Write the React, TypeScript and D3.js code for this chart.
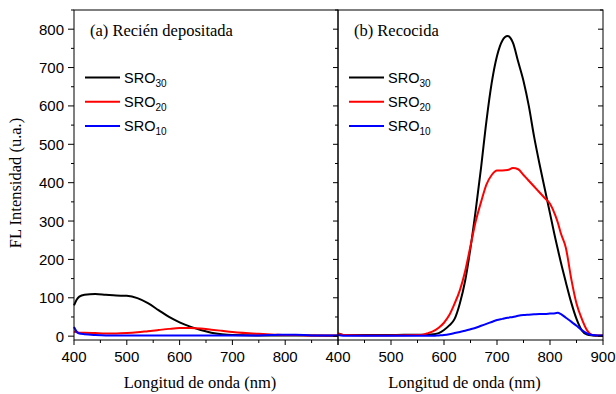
import React from "react";
import * as d3 from "d3";

const wlA = [400, 405, 410, 420, 440, 460, 480, 500, 520, 540, 560, 580, 600, 620, 640, 660, 680, 700, 750, 780, 800, 820, 850, 900];
const sro30A = [80, 95, 103, 108, 110, 108, 106, 105, 99, 86, 68, 50, 36, 25, 16, 9, 5, 3, 2, 2, 2, 2, 2, 1];
const sro20A = [12, 10, 9, 9, 8, 7, 7, 8, 10, 13, 16, 19, 21, 21, 20, 17, 14, 11, 6, 4, 3, 3, 2, 2];
const sro10A = [24, 12, 7, 5, 3, 2, 2, 2, 2, 2, 2, 2, 2, 2, 2, 2, 2, 2, 2, 3, 4, 4, 2, 2];

const wlB = [400, 410, 450, 500, 550, 560, 570, 580, 590, 600, 610, 620, 630, 640, 650, 660, 670, 680, 690, 700, 710, 720, 730, 740, 750, 760, 770, 780, 790, 800, 810, 815, 820, 830, 840, 850, 860, 870, 880, 890, 900];
const sro30B = [7, 3, 3, 3, 4, 4, 4, 5, 8, 16, 28, 45, 86, 145, 230, 330, 440, 560, 660, 730, 770, 782, 765, 715, 665, 600, 520, 450, 385, 320, 255, 225, 195, 140, 88, 45, 15, 4, 2, 1, 1];
const sro20B = [7, 3, 2, 2, 3, 4, 8, 13, 22, 35, 55, 85, 120, 170, 235, 300, 350, 395, 420, 432, 432, 433, 438, 435, 420, 405, 390, 375, 360, 345, 315, 295, 270, 230, 150, 85, 45, 15, 3, 2, 2];
const sro10B = [3, 1, 1, 1, 1, 1, 1, 1, 2, 3, 5, 8, 11, 14, 18, 22, 27, 32, 37, 42, 45, 48, 50, 53, 55, 56, 57, 58, 58, 59, 60, 61, 58, 48, 38, 27, 16, 7, 3, 2, 2];

const xTicksA = [400, 500, 600, 700, 800];
const xTicksB = [400, 500, 600, 700, 800, 900];
const yTicks = [0, 100, 200, 300, 400, 500, 600, 700, 800];
const seriesNames = ["30", "20", "10"];
const colors = ["#000000", "#ff0000", "#0000ff"];
const panelTitles = ["(a) Recién depositada", "(b) Recocida"];
const xTitle = "Longitud de onda (nm)";
const yTitle = "FL Intensidad (u.a.)";

const W = 616;
const H = 394;
const top = 10;
const bottom = 340;
const panels = [
  { x0: 74, x1: 338, wl: wlA, data: [sro30A, sro20A, sro10A], title: panelTitles[0], ticks: xTicksA },
  { x0: 338, x1: 603, wl: wlB, data: [sro30B, sro20B, sro10B], title: panelTitles[1], ticks: xTicksB },
];

const sansFont = "'Liberation Sans', Arial, Helvetica, sans-serif";
const serifFont = "'Liberation Serif', 'Times New Roman', Times, 'DejaVu Serif', serif";

export default function App() {
  const y = d3.scaleLinear().domain([-10, 850]).range([bottom, top]);
  const minorY = d3.range(0, 851, 50);
  const minorX = d3.range(400, 901, 50);

  return (
    <svg width={W} height={H} style={{ position: "absolute", left: 0, top: 0, background: "#fff" }}>
      <rect x={0} y={0} width={W} height={H} fill="#fff" />
      {panels.map((p, pi) => {
        const x = d3.scaleLinear().domain([400, 900]).range([p.x0, p.x1]);
        const line = d3
          .line<number>()
          .x((_, i) => x(p.wl[i]))
          .y((d) => y(d))
          .curve(d3.curveMonotoneX);
        const legX = p.x0 + 11;
        return (
          <g key={pi}>
            {p.data.map((s, si) => (
              <path key={si} d={line(s) || ""} fill="none" stroke={colors[si]} strokeWidth={2} strokeLinejoin="round" />
            ))}
            <rect x={p.x0} y={top} width={p.x1 - p.x0} height={bottom - top} fill="none" stroke="#000" strokeWidth={1} />
            {minorX.map((v) => {
              const major = v % 100 === 0;
              return (
                <line key={"xt" + v} x1={x(v)} x2={x(v)} y1={bottom} y2={bottom + (major ? 5 : 3)} stroke="#000" strokeWidth={1} />
              );
            })}
            {p.ticks.map((v) => (
              <text key={"xl" + v} x={x(v)} y={362} textAnchor="middle" fontFamily={sansFont} fontSize={15} fill="#000">
                {v}
              </text>
            ))}
            {minorY.map((v) => {
              const major = v % 100 === 0;
              return (
                <line key={"ry" + v} x1={p.x1} x2={p.x1 - (major ? 5 : 3)} y1={y(v)} y2={y(v)} stroke="#000" strokeWidth={1} />
              );
            })}
            {pi === 0 &&
              minorY.map((v) => {
                const major = v % 100 === 0;
                return (
                  <line key={"ly" + v} x1={p.x0} x2={p.x0 - (major ? 6 : 3)} y1={y(v)} y2={y(v)} stroke="#000" strokeWidth={1} />
                );
              })}
            {pi === 0 &&
              yTicks.map((v) => (
                <text key={"yl" + v} x={64} y={y(v) + 5.5} textAnchor="end" fontFamily={sansFont} fontSize={15} fill="#000">
                  {v}
                </text>
              ))}
            <text x={p.x0 + 16} y={36} fontFamily={serifFont} fontSize={16.5} fill="#000">
              {p.title}
            </text>
            {seriesNames.map((n, si) => {
              const ly = 77.5 + si * 24.3;
              return (
                <g key={"lg" + si}>
                  <line x1={legX} x2={legX + 35} y1={ly} y2={ly} stroke={colors[si]} strokeWidth={2} />
                  <text x={legX + 39} y={ly + 5} fontFamily={sansFont} fontSize={14.5} fill="#000">
                    SRO
                    <tspan fontSize={10} dy={4}>
                      {n}
                    </tspan>
                  </text>
                </g>
              );
            })}
            <text x={(p.x0 + p.x1) / 2 - 6} y={388} textAnchor="middle" fontFamily={serifFont} fontSize={16.5} fill="#000">
              {xTitle}
            </text>
          </g>
        );
      })}
      <text
        transform={`translate(21, ${(top + bottom) / 2 + 8}) rotate(-90)`}
        textAnchor="middle"
        fontFamily={serifFont}
        fontSize={16.5}
        fill="#000"
      >
        {yTitle}
      </text>
    </svg>
  );
}
